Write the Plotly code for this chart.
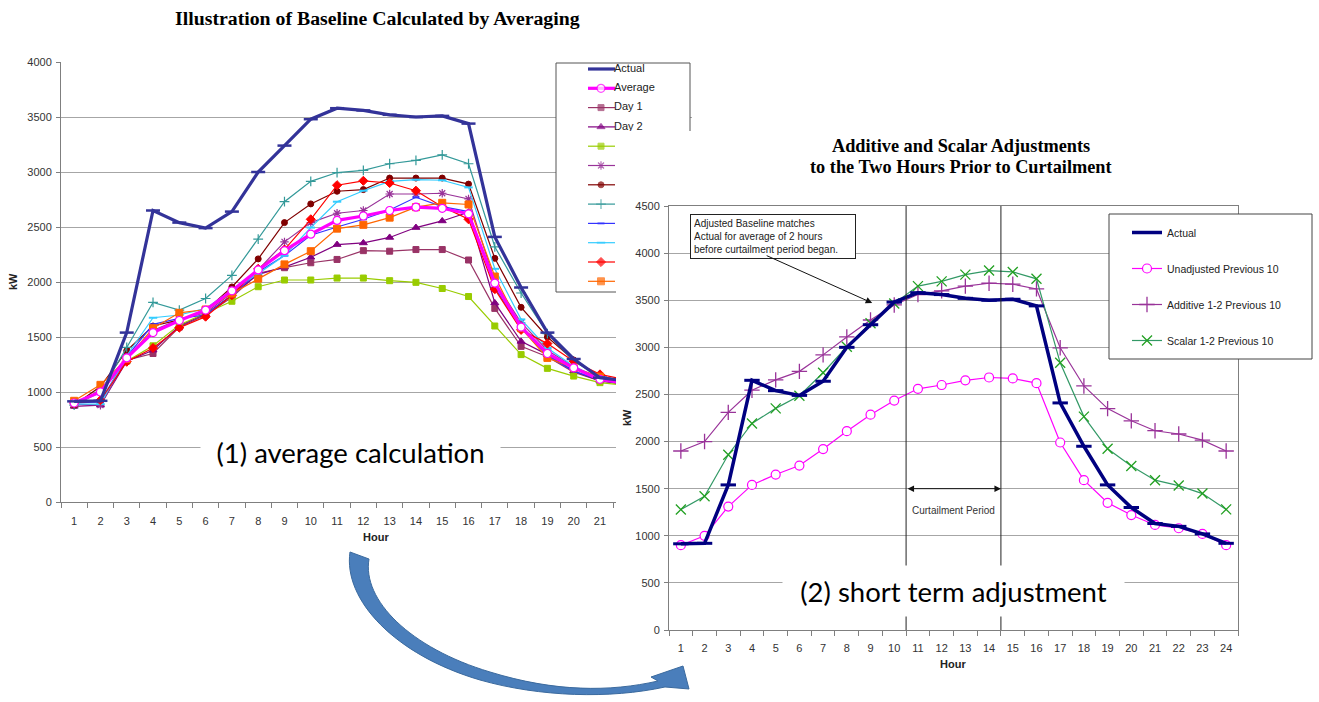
import plotly.graph_objects as go

W, H = 1319, 702

# ---------------------------------------------------------------- data
hours = list(range(1, 25))

actual = [915, 920, 1540, 2650, 2540, 2490, 2640, 3000, 3240, 3480, 3580, 3560,
          3520, 3500, 3510, 3440, 2410, 1950, 1540, 1300, 1130, 1100, 1020, 920]
average = [900, 1000, 1310, 1540, 1650, 1745, 1920, 2110, 2285, 2435, 2560, 2600,
           2650, 2680, 2670, 2620, 1990, 1590, 1350, 1220, 1115, 1080, 1020, 900]
day1 = [880, 1020, 1290, 1350, 1590, 1700, 1860, 2080, 2130, 2175, 2205, 2285,
        2280, 2295, 2295, 2200, 1760, 1415, 1320, 1180, 1100, 1070, 1010, 890]
day2 = [870, 880, 1280, 1380, 1600, 1710, 1880, 2070, 2135, 2225, 2340, 2355,
        2405, 2495, 2555, 2635, 1810, 1460, 1340, 1190, 1100, 1070, 1010, 890]
day3 = [890, 1000, 1280, 1420, 1610, 1720, 1825, 1957, 2018, 2018, 2036, 2036,
        2012, 1997, 1941, 1868, 1600, 1340, 1215, 1145, 1085, 1060, 1000, 880]
day4 = [890, 880, 1300, 1560, 1660, 1720, 1900, 2110, 2365, 2540, 2625, 2650,
        2800, 2800, 2807, 2755, 2000, 1630, 1380, 1230, 1120, 1080, 1020, 900]
day5 = [880, 1050, 1375, 1600, 1655, 1740, 1955, 2210, 2540, 2710, 2825, 2840,
        2945, 2945, 2945, 2890, 2215, 1770, 1500, 1290, 1140, 1100, 1030, 910]
day6 = [880, 1000, 1405, 1815, 1745, 1850, 2060, 2390, 2730, 2915, 2995, 3015,
        3075, 3105, 3155, 3075, 2320, 1900, 1530, 1280, 1140, 1100, 1030, 910]
day7 = [900, 910, 1320, 1615, 1670, 1700, 1880, 2090, 2240, 2425, 2500, 2570,
        2655, 2770, 2685, 2640, 1950, 1580, 1330, 1190, 1110, 1070, 1010, 890]
day8 = [890, 890, 1330, 1675, 1700, 1760, 1925, 2075, 2240, 2495, 2730, 2830,
        2915, 2930, 2925, 2860, 2120, 1660, 1400, 1235, 1120, 1085, 1020, 900]
day9 = [900, 925, 1275, 1400, 1585, 1685, 1880, 2120, 2295, 2570, 2880, 2920,
        2900, 2830, 2685, 2570, 1935, 1565, 1440, 1280, 1160, 1110, 1040, 910]
day10 = [920, 1065, 1300, 1580, 1720, 1750, 1895, 2030, 2160, 2280, 2485, 2520,
         2585, 2680, 2720, 2705, 2050, 1580, 1310, 1220, 1140, 1100, 1030, 910]

additive = [1900, 2000, 2310, 2545, 2655, 2745, 2920, 3110, 3290, 3450, 3560, 3600,
            3650, 3680, 3670, 3620, 2995, 2590, 2350, 2220, 2115, 2080, 2015, 1900]
scalar = [1278, 1420, 1860, 2192, 2352, 2487, 2730, 3006, 3255, 3466, 3650, 3700,
          3772, 3815, 3800, 3727, 2836, 2265, 1923, 1740, 1590, 1533, 1448, 1280]

curtail_start, curtail_end = 10.5, 14.5
curtail_arrow_kw = 1500

# ---------------------------------------------------------------- geometry helpers
def dom_x(left, right):
    return [left / W, right / W]


def dom_y(top, bottom):
    return [1 - bottom / H, 1 - top / H]


def paper(x, y):
    return x / W, 1 - y / H


C1 = dict(left=61, right=692, top=62, bottom=502)      # averaging chart plot area
COVER = dict(left=616, right=W, top=131, bottom=H)     # sheet of the second chart
C2 = dict(left=669, right=1238, top=206, bottom=630)   # adjustment chart plot area


def c1_x(px):
    return 0.5 + (px - C1["left"]) * 24 / (C1["right"] - C1["left"])


def c1_y(py):
    return (C1["bottom"] - py) * 4000 / (C1["bottom"] - C1["top"])


TICK_FONT = dict(family="Liberation Sans, Arial", size=11, color="#333333")
GRID = "#a6a6a6"
AXIS = "#7f7f7f"

fig = go.Figure()

# ---------------------------------------------------------------- chart 1 series
def mk(symbol, color, size=6, lw=1.0, fill=None):
    return dict(symbol=symbol, size=size, color=fill or color,
                line=dict(width=lw, color=color))


series1 = [
    ("Actual", actual, dict(color="#333399", width=3.2), mk("line-ew-open", "#333399", 10, 2.5)),
    ("Average", average, dict(color="#FF00FF", width=3.2), mk("circle", "#FF00FF", 8, 1.2, "white")),
    ("Day 1", day1, dict(color="#993366", width=1.2), mk("square", "#993366", 6)),
    ("Day 2", day2, dict(color="#800080", width=1.2), mk("triangle-up", "#800080", 7)),
    ("Day 3", day3, dict(color="#99CC00", width=1.2), mk("square", "#99CC00", 6)),
    ("Day 4", day4, dict(color="#993399", width=1.2), mk("asterisk-open", "#993399", 7, 1.2)),
    ("Day 5", day5, dict(color="#800000", width=1.2), mk("circle", "#800000", 6)),
    ("Day 6", day6, dict(color="#339999", width=1.2), mk("cross-thin-open", "#339999", 7, 1.2)),
    ("Day 7", day7, dict(color="#3333FF", width=1.2), mk("line-ew-open", "#3333FF", 5, 2)),
    ("Day 8", day8, dict(color="#33CCFF", width=1.2), mk("line-ew-open", "#33CCFF", 6, 2)),
    ("Day 9", day9, dict(color="#FF0000", width=1.2), mk("diamond", "#FF0000", 7)),
    ("Day 10", day10, dict(color="#FF6600", width=1.2), mk("square", "#FF6600", 7)),
]

# chart 1 legend frame: a white filled box sitting above the gridlines
fx0, fx1 = c1_x(556), c1_x(690)
fy0, fy1 = c1_y(292), c1_y(63)
fig.add_trace(go.Scatter(x=[fx0, fx1, fx1, fx0, fx0], y=[fy0, fy0, fy1, fy1, fy0],
                         mode="lines", fill="toself", fillcolor="white",
                         line=dict(color="#555555", width=1), xaxis="x", yaxis="y",
                         showlegend=False, hoverinfo="skip"))

draw_order = list(range(2, len(series1))) + [1, 0]
for i in draw_order:
    name, vals, line, marker = series1[i]
    fig.add_trace(go.Scatter(x=hours, y=vals, name=name, mode="lines+markers",
                             line=line, marker=marker, xaxis="x", yaxis="y",
                             showlegend=False, cliponaxis=True))

# chart 1 legend: samples and labels drawn inside the plot so the second
# chart's sheet hides the part lying under it
leg_x0, leg_x1, leg_xm = c1_x(588), c1_x(615), c1_x(601)
for i, (name, vals, line, marker) in enumerate(series1):
    yy = c1_y(69 + i * 19.3)
    m = dict(marker)
    m["size"] = [0, 0 if i == 0 else marker["size"], 0]
    fig.add_trace(go.Scatter(x=[leg_x0, leg_xm, leg_x1], y=[yy] * 3, mode="lines+markers",
                             line=line, marker=m, xaxis="x", yaxis="y",
                             showlegend=False, hoverinfo="skip"))
legend1_labels = [s[0] for s in series1[:4]]
fig.add_trace(go.Scatter(
    x=[c1_x(614)] * len(legend1_labels),
    y=[c1_y(69 + i * 19.3) for i in range(len(legend1_labels))],
    text=legend1_labels, mode="text", textposition="middle right",
    textfont=dict(family="Liberation Sans, Arial", size=11, color="#222222"),
    xaxis="x", yaxis="y", showlegend=False, hoverinfo="skip"))

# invisible subplot whose white background hides the right part of chart 1
fig.add_trace(go.Scatter(x=[0], y=[0], mode="markers", marker=dict(opacity=0),
                         xaxis="x2", yaxis="y2", showlegend=False, hoverinfo="skip"))

# ---------------------------------------------------------------- chart 2 series
fig.add_trace(go.Scatter(x=hours, y=average, name="Unadjusted Previous 10",
                         mode="lines+markers", line=dict(color="#FF00FF", width=1.2),
                         marker=mk("circle", "#FF00FF", 9, 1.2, "white"),
                         xaxis="x3", yaxis="y3", legendgroup="b", legendrank=2))
fig.add_trace(go.Scatter(x=hours, y=additive, name="Additive 1-2 Previous 10",
                         mode="lines+markers", line=dict(color="#993399", width=1.2),
                         marker=mk("cross-thin-open", "#993399", 11, 1.3),
                         xaxis="x3", yaxis="y3", legendgroup="c", legendrank=3))
fig.add_trace(go.Scatter(x=hours, y=scalar, name="Scalar 1-2 Previous 10",
                         mode="lines+markers", line=dict(color="#339966", width=1.2),
                         marker=mk("x-thin-open", "#22A022", 10, 1.3),
                         xaxis="x3", yaxis="y3", legendgroup="d", legendrank=4))
fig.add_trace(go.Scatter(x=hours, y=actual, name="Actual",
                         mode="lines+markers", line=dict(color="#000080", width=3.5),
                         marker=mk("line-ew-open", "#000080", 11, 3),
                         xaxis="x3", yaxis="y3", legendgroup="a", legendrank=1))

# ---------------------------------------------------------------- axes
def hour_axis(domain, anchor, standoff):
    return dict(domain=domain, anchor=anchor, range=[0.5, 24.5],
                tickmode="array", tickvals=hours, ticktext=[str(h) for h in hours],
                ticks="", tickfont=TICK_FONT,
                ticklabelstandoff=standoff, showgrid=False, zeroline=False,
                showline=True, linecolor=AXIS, linewidth=1,
                minor=dict(tickmode="linear", tick0=0.5, dtick=1, ticks="outside",
                           ticklen=5, tickcolor=AXIS, showgrid=False))


def kw_axis(domain, anchor, top, step):
    return dict(domain=domain, anchor=anchor, range=[0, top], tickmode="linear",
                tick0=0, dtick=step, ticks="outside", ticklen=4, tickcolor=AXIS,
                tickfont=TICK_FONT, ticklabelstandoff=2, showgrid=True,
                gridcolor=GRID, gridwidth=1, zeroline=False, showline=True,
                linecolor=AXIS, linewidth=1)


xaxis1 = hour_axis(dom_x(C1["left"], C1["right"]), "y", 9)
yaxis1 = kw_axis(dom_y(C1["top"], C1["bottom"]), "x", 4000, 500)
xaxis3 = hour_axis(dom_x(C2["left"], C2["right"]), "y3", 8)
xaxis3["mirror"] = True
yaxis3 = kw_axis(dom_y(C2["top"], C2["bottom"]), "x3", 4500, 500)
yaxis3["mirror"] = True

fig.update_layout(
    width=W, height=H, margin=dict(l=0, r=0, t=0, b=0, autoexpand=False),
    paper_bgcolor="white", plot_bgcolor="white",
    xaxis=xaxis1, yaxis=yaxis1,
    xaxis2=dict(domain=dom_x(COVER["left"], COVER["right"]), anchor="y2",
                range=[0, 1], visible=False),
    yaxis2=dict(domain=dom_y(COVER["top"], COVER["bottom"]), anchor="x2",
                range=[0, 1], visible=False),
    xaxis3=xaxis3, yaxis3=yaxis3,
    showlegend=True,
    legend=dict(x=1127 / W, y=1 - 218 / H, xanchor="left", yanchor="top",
                bgcolor="rgba(0,0,0,0)", borderwidth=0, tracegroupgap=17,
                font=dict(family="Liberation Sans, Arial", size=10.5, color="#222222"),
                itemclick=False, itemdoubleclick=False),
    hovermode=False,
)

# ---------------------------------------------------------------- shapes
shapes = []
# curtailment period boundaries
for xv in (curtail_start, curtail_end):
    shapes.append(dict(type="line", xref="x3", yref="y3", x0=xv, x1=xv, y0=0, y1=4500,
                       line=dict(color="#222222", width=1), layer="above"))
# chart 2 legend frame
lx0, ly0 = paper(1109, 214)
lx1, ly1 = paper(1312, 359)
shapes.append(dict(type="rect", xref="paper", yref="paper", x0=lx0, x1=lx1, y0=ly1, y1=ly0,
                   fillcolor="white", line=dict(color="#444444", width=1), layer="above"))

# curved connector arrow between the two charts (kept inside the page)
arrow_path = [
    ("M", [(350, 552)]),
    ("C", [(343, 600), (395, 655), (480, 680)]),
    ("C", [(540, 697), (610, 699), (665, 687)]),
    ("L", [(689, 689)]),
    ("L", [(683, 666)]),
    ("L", [(651, 677)]),
    ("L", [(658, 681)]),
    ("C", [(610, 692), (555, 692), (490, 672)]),
    ("C", [(410, 648), (362, 600), (369, 559)]),
]
path_str = ""
for cmd, pts in arrow_path:
    path_str += cmd + " " + " ".join("%.5f,%.5f" % paper(*p) for p in pts) + " "
path_str += "Z"
shapes.append(dict(type="path", xref="paper", yref="paper", path=path_str,
                   fillcolor="#4A7EBB", line=dict(color="#3B6A9E", width=1), layer="above"))
fig.update_layout(shapes=shapes)

# ---------------------------------------------------------------- annotations
ann = []
LABEL_FONT = dict(family="Liberation Sans, Arial", size=11, color="#222222")


def title_font(size):
    return dict(family="Liberation Serif, Times New Roman", size=size, color="#000000")


def text_at(x, y, text, font, **kw):
    px_, py_ = paper(x, y)
    d = dict(x=px_, y=py_, xref="paper", yref="paper", text=text, showarrow=False,
             font=font, xanchor="center", yanchor="middle")
    d.update(kw)
    ann.append(d)


text_at(377, 18, "<b>Illustration of Baseline Calculated by Averaging</b>", title_font(19.8))
text_at(961, 146, "<b>Additive and Scalar Adjustments</b>", title_font(18.3))
text_at(961, 167, "<b>to the Two Hours Prior to Curtailment</b>", title_font(18.3))

text_at(376, 537, "<b>Hour</b>", LABEL_FONT)
text_at(13, 282, "<b>kW</b>", LABEL_FONT, textangle=-90)
text_at(953, 664, "<b>Hour</b>", LABEL_FONT)
text_at(627, 418, "<b>kW</b>", LABEL_FONT, textangle=-90)

# note box with its pointer
text_at(690, 214, "Adjusted Baseline matches<br>Actual for average of 2 hours<br>"
        "before curtailment period began.",
        dict(family="Liberation Sans, Arial", size=10, color="#222222"),
        xanchor="left", yanchor="top", align="left", bgcolor="white",
        bordercolor="#222222", borderwidth=1, borderpad=3, width=158)
ann.append(dict(x=9.07, y=3471, xref="x3", yref="y3", text="", showarrow=True,
                ax=-107, ay=-48, arrowhead=2, arrowsize=1.3, arrowwidth=1,
                arrowcolor="#111111"))

# curtailment period marker
ann.append(dict(x=curtail_end, y=curtail_arrow_kw, ax=curtail_start, ay=curtail_arrow_kw,
                xref="x3", yref="y3", axref="x3", ayref="y3", text="", showarrow=True,
                arrowside="end+start", arrowhead=2, arrowsize=1.3, arrowwidth=1,
                arrowcolor="#111111"))
ann.append(dict(x=(curtail_start + curtail_end) / 2, y=1270, xref="x3", yref="y3",
                text="Curtailment Period", showarrow=False,
                font=dict(family="Liberation Sans, Arial", size=10, color="#333333")))

# step labels
STEP_FONT = dict(family="Lato, Open Sans", size=27.5, color="#000000")
text_at(350.5, 452, "(1) average calculation", STEP_FONT, bgcolor="white",
        width=299, height=44, borderpad=0)
text_at(953.5, 591, "(2) short term adjustment", STEP_FONT, bgcolor="white",
        width=341, height=50, borderpad=0)

fig.update_layout(annotations=ann)

fig.write_html("out.html")
